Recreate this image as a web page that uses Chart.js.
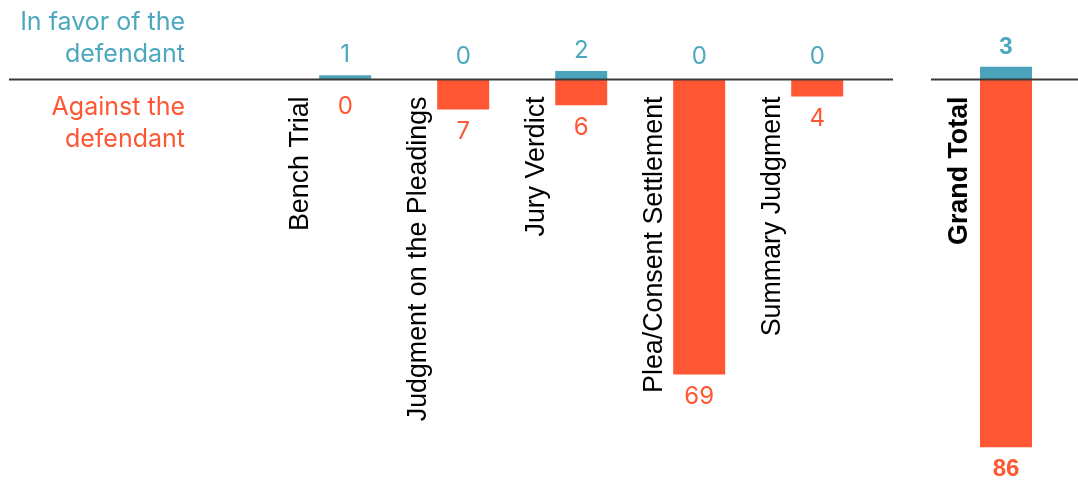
<!DOCTYPE html>
<html>
<head>
<meta charset="utf-8">
<script src="https://cdn.jsdelivr.net/npm/chart.js@4.4.0/dist/chart.umd.min.js"></script>
<style>
  html, body { margin: 0; padding: 0; background: #ffffff; }
  #wrap { position: relative; width: 1078px; height: 481px; overflow: hidden; }
  canvas { position: absolute; top: 0; }
</style>
</head>
<body>
<div id="wrap">
  <canvas id="left" width="915" height="481" style="left:0px"></canvas>
  <canvas id="right" width="163" height="481" style="left:915px"></canvas>
</div>
<script>
// ---- Data ----
const categories = ["Bench Trial", "Judgment on the Pleadings", "Jury Verdict", "Plea/Consent Settlement", "Summary Judgment"];
const inFavor = [1, 0, 2, 0, 0];
const against = [0, 7, 6, 69, 4];
const totalCategories = ["Grand Total"];
const totalInFavor = [3];
const totalAgainst = [86];
const legendFavor = ["In favor of the", "defendant"];
const legendAgainst = ["Against the", "defendant"];

// ---- Styles ----
const BLUE = "#4aa3bb";
const BLUE_TEXT = "#4ba8bf";
const RED = "#ff5733";
const LINE = "#3a3a3a";
const NUM_FONT = "Inter, 'Open Sans', sans-serif";
const CAT_FONT = "'Liberation Sans', Arial, sans-serif";

function makePlugin(opts) {
  return {
    id: "custom_" + opts.name,
    afterDatasetsDraw(chart) {
      const ctx = chart.ctx;
      const y0 = chart.scales.y.getPixelForValue(0);
      // baseline
      ctx.save();
      ctx.strokeStyle = LINE;
      ctx.lineWidth = 1.8;
      ctx.beginPath();
      ctx.moveTo(opts.lineStart, y0);
      ctx.lineTo(opts.lineEnd, y0);
      ctx.stroke();
      ctx.restore();

      const favMeta = chart.getDatasetMeta(0);
      const agMeta = chart.getDatasetMeta(1);
      const favData = chart.data.datasets[0].data;
      const agData = chart.data.datasets[1].data;
      const fs = 24;
      const numFont = (opts.bold ? "bold " : "") + fs + "px " + (opts.bold ? CAT_FONT : NUM_FONT);
      const capH = fs * (opts.bold ? 0.716 : 0.727);

      chart.data.labels.forEach((lab, i) => {
        const fe = favMeta.data[i];
        const ae = agMeta.data[i];
        const cx = fe.x;
        // blue value
        ctx.save();
        ctx.font = numFont;
        ctx.textAlign = "center";
        ctx.textBaseline = "alphabetic";
        ctx.fillStyle = BLUE_TEXT;
        const topY = Math.min(fe.y, y0);
        const by = Math.min(topY - 13, y0 - 15);
        ctx.fillText(String(favData[i]), cx, by);
        // red value
        ctx.fillStyle = RED;
        const botY = Math.max(ae.y, y0);
        const ty = Math.max(botY + 12, y0 + 17);
        ctx.fillText(String(Math.abs(agData[i])), cx, ty + capH);
        ctx.restore();

        // category label rotated
        ctx.save();
        ctx.font = (opts.bold ? "bold " : "") + "26.8px " + CAT_FONT;
        ctx.fillStyle = "#000000";
        ctx.textAlign = "right";
        ctx.textBaseline = "alphabetic";
        ctx.translate(cx - opts.labelOffset, 96.5);
        ctx.rotate(-Math.PI / 2);
        ctx.fillText(lab, 0, 0);
        ctx.restore();
      });

      if (opts.legend) {
        ctx.save();
        ctx.font = "25px " + NUM_FONT;
        ctx.textAlign = "right";
        ctx.textBaseline = "alphabetic";
        ctx.fillStyle = BLUE_TEXT;
        ctx.fillText(legendFavor[0], 185, 30);
        ctx.fillText(legendFavor[1], 185, 62);
        ctx.fillStyle = RED;
        ctx.fillText(legendAgainst[0], 185, 115);
        ctx.fillText(legendAgainst[1], 185, 147);
        ctx.restore();
      }
    }
  };
}

function makeChart(id, labels, fav, ag, padding, plugOpts) {
  return new Chart(document.getElementById(id), {
    type: "bar",
    data: {
      labels: labels,
      datasets: [
        { label: "In favor of the defendant", data: fav, backgroundColor: BLUE, borderWidth: 0,
          barPercentage: 52 / 118, categoryPercentage: 1 },
        { label: "Against the defendant", data: ag.map(v => -v), backgroundColor: RED, borderWidth: 0,
          barPercentage: 52 / 118, categoryPercentage: 1 }
      ]
    },
    options: {
      responsive: false,
      animation: false,
      devicePixelRatio: 1,
      layout: { padding: padding },
      plugins: { legend: { display: false }, tooltip: { enabled: false } },
      scales: {
        x: { stacked: true, display: false },
        y: { stacked: true, display: false, min: -90, max: 5 }
      }
    },
    plugins: [makePlugin(plugOpts)]
  });
}

makeChart("left", categories, inFavor, against,
  { left: 286.2, right: 38.8, top: 58.1, bottom: 16.75 },
  { name: "left", lineStart: 9, lineEnd: 893, labelOffset: 37.5, bold: false, legend: true });

makeChart("right", totalCategories, totalInFavor, totalAgainst,
  { left: 32, right: 13, top: 58.1, bottom: 16.75 },
  { name: "right", lineStart: 16, lineEnd: 163, labelOffset: 39, bold: true, legend: false });
</script>
</body>
</html>
